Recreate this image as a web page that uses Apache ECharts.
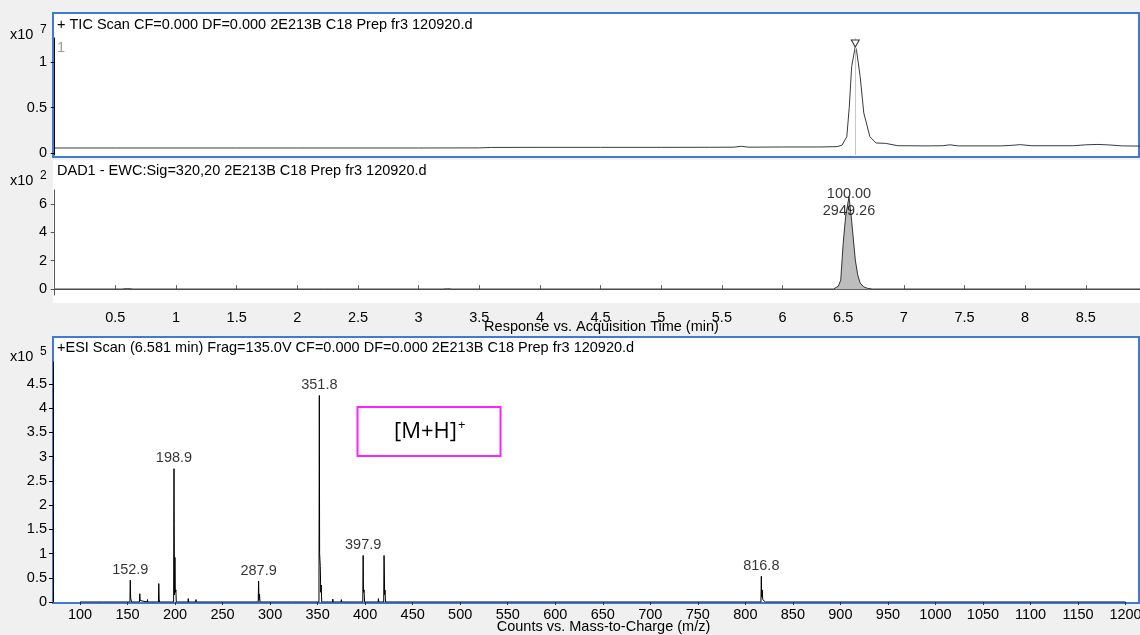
<!DOCTYPE html>
<html>
<head>
<meta charset="utf-8">
<script src="https://cdn.jsdelivr.net/npm/echarts@6/dist/echarts.min.js"></script>
<style>
  html, body { margin: 0; padding: 0; background: #f0f0f0; }
  #chart { width: 1140px; height: 635px; }
</style>
</head>
<body>
<div id="chart"></div>
<script>
// ---- Panel titles ----
const ticTitle = '+ TIC Scan CF=0.000 DF=0.000 2E213B C18 Prep fr3 120920.d';
const dadTitle = 'DAD1 - EWC:Sig=320,20 2E213B C18 Prep fr3 120920.d';
const msTitle = '+ESI Scan (6.581 min) Frag=135.0V CF=0.000 DF=0.000 2E213B C18 Prep fr3 120920.d';
const timeAxisName = 'Response vs. Acquisition Time (min)';
const mzAxisName = 'Counts vs. Mass-to-Charge (m/z)';

// ---- Tick labels ----
const ticYTicks = [0, 0.5, 1];
const dadYTicks = [0, 2, 4, 6];
const msYTicks = [0, 0.5, 1, 1.5, 2, 2.5, 3, 3.5, 4, 4.5];
const timeTicks = [0, 0.5, 1, 1.5, 2, 2.5, 3, 3.5, 4, 4.5, 5, 5.5, 6, 6.5, 7, 7.5, 8, 8.5];
const timeTickLabels = [0.5, 1, 1.5, 2, 2.5, 3, 3.5, 4, 4.5, 5, 5.5, 6, 6.5, 7, 7.5, 8, 8.5];
const mzTickLabels = [100, 150, 200, 250, 300, 350, 400, 450, 500, 550, 600, 650, 700, 750,
  800, 850, 900, 950, 1000, 1050, 1100, 1150, 1200];

// ---- TIC trace: [time (min), counts x10^7] ----
const ticTrace = [
  [0, 0.055], [0.5, 0.055], [1, 0.055], [1.5, 0.055], [2, 0.055], [2.5, 0.055], [3, 0.055],
  [3.5, 0.056], [3.6, 0.061], [4, 0.062], [4.5, 0.062], [5, 0.062], [5.4, 0.063],
  [5.6, 0.064], [5.66, 0.074], [5.72, 0.064], [6.0, 0.066], [6.3, 0.066], [6.45, 0.07],
  [6.49, 0.085], [6.53, 0.18], [6.55, 0.5], [6.57, 0.95], [6.6, 1.17], [6.61, 1.13],
  [6.64, 0.84], [6.67, 0.44], [6.72, 0.18], [6.77, 0.11], [6.85, 0.106], [6.95, 0.08],
  [7.2, 0.078], [7.32, 0.08], [7.38, 0.09], [7.45, 0.078], [7.8, 0.078], [7.9, 0.085],
  [7.96, 0.092], [8.05, 0.08], [8.4, 0.08], [8.5, 0.09], [8.6, 0.094], [8.7, 0.088],
  [8.8, 0.078], [8.95, 0.076]
];
const ticApex = [6.6, 1.17];

// ---- DAD trace: [time (min), response x10^2] ----
const dadTrace = [
  [0, 0], [0.55, 0], [0.6, 0.03], [0.65, 0], [3.2, 0], [3.24, 0.02], [3.28, 0],
  [6.42, 0], [6.46, 0.2], [6.48, 0.63], [6.5, 3.2], [6.52, 5.1], [6.548, 6.51],
  [6.57, 4.8], [6.6, 2.05], [6.62, 1.0], [6.64, 0.42], [6.67, 0.15], [6.7, 0.05],
  [6.74, 0], [8.95, 0]
];
const dadPeak = [6.548, 6.51];
const dadPeakPercent = '100.00';
const dadPeakArea = '2949.26';

// ---- Mass spectrum profile: [m/z, counts x10^5] ----
const msProfile = [
  [100, 0], [104.6, 0], [105, 0.04], [105.4, 0],
  [124.7, 0], [125, 0.02], [125.3, 0],
  [134.7, 0], [135, 0.02], [135.3, 0],
  [152.5, 0], [152.9, 0.45], [153.3, 0.08], [153.9, 0.06], [154.3, 0],
  [162.6, 0], [162.9, 0.17], [163.3, 0.03], [163.6, 0],
  [170.7, 0], [171, 0.05], [171.3, 0],
  [182.5, 0], [182.9, 0.38], [183.3, 0.06], [183.7, 0],
  [198.5, 0], [198.9, 2.75], [199.1, 1.62], [199.4, 0.15], [199.9, 0.92], [200.3, 0.2],
  [200.9, 0.25], [201.3, 0],
  [213.6, 0], [213.9, 0.07], [214.2, 0],
  [221.7, 0], [222, 0.05], [222.3, 0],
  [287.5, 0], [287.9, 0.43], [288.3, 0.05], [288.9, 0.16], [289.3, 0],
  [323.7, 0], [324, 0.02], [324.3, 0],
  [351.4, 0], [351.8, 4.26], [352.1, 1.0], [352.8, 0.73], [353.3, 0.2], [353.8, 0.35], [354.3, 0],
  [365.7, 0], [366, 0.06], [366.3, 0],
  [374.7, 0], [375, 0.05], [375.3, 0],
  [397.5, 0], [397.9, 0.96], [398.3, 0.2], [398.9, 0.25], [399.4, 0],
  [413.7, 0], [414, 0.07], [414.3, 0],
  [419.5, 0], [419.9, 0.96], [420.1, 0.72], [420.5, 0.15], [420.9, 0.25], [421.4, 0],
  [429.7, 0], [430, 0.03], [430.3, 0],
  [436.7, 0], [437, 0.04], [437.3, 0],
  [816.4, 0], [816.8, 0.53], [817.2, 0.1], [817.8, 0.25], [818.3, 0.05], [820, 0.03], [821, 0],
  [835, 0], [836, 0.03], [837, 0], [844, 0], [845, 0.03], [846, 0],
  [1200, 0]
];
// labelled centroid peaks: [m/z, counts x10^5]
const msLabelledPeaks = [
  [152.9, 0.45], [198.9, 2.75], [287.9, 0.43], [351.8, 4.26], [397.9, 0.96], [816.8, 0.53]
];

const FONT = 'Liberation Sans, Arial, sans-serif';
const FS = 14.5;
const BLUE = '#3f7bd6';

const chart = echarts.init(document.getElementById('chart'), null, { renderer: 'canvas' });

function plain(v) { return String(v); }

function yAxisCommon(gridIndex, min, max, ticks, lineColor) {
  return {
    type: 'value', gridIndex, min, max,
    axisLine: { show: true, lineStyle: { color: lineColor, width: 1 } },
    axisTick: { show: true, length: 4, customValues: ticks, lineStyle: { color: lineColor } },
    axisLabel: { show: true, customValues: ticks, margin: 6, color: '#000', fontSize: FS, fontFamily: FONT, formatter: plain },
    splitLine: { show: false }
  };
}

function txt(left, top, text, size, color) {
  return {
    type: 'text', left, top, z: 100,
    style: { text, fill: color || '#000', font: size + 'px ' + FONT }
  };
}

const option = {
  backgroundColor: '#f0f0f0',
  animation: false,
  textStyle: { fontFamily: FONT },
  grid: [
    { left: 53, top: 38, width: 1087, height: 117, outerBoundsMode: 'none', containLabel: false },
    { left: 53, top: 190, width: 1087, height: 105, outerBoundsMode: 'none', containLabel: false },
    { left: 53, top: 362, width: 1087, height: 240, outerBoundsMode: 'none', containLabel: false }
  ],
  xAxis: [
    {
      type: 'value', gridIndex: 0, min: -0.014, max: 8.947,
      axisLine: { show: false }, axisTick: { show: false }, axisLabel: { show: false },
      splitLine: { show: false }
    },
    {
      type: 'value', gridIndex: 1, min: -0.014, max: 8.947, offset: 9,
      axisLine: { show: true, lineStyle: { color: '#666' } },
      axisTick: { show: true, inside: true, length: 4, customValues: timeTicks, lineStyle: { color: '#666' } },
      axisLabel: { show: true, customValues: timeTickLabels, margin: 6, color: '#000', fontSize: FS, fontFamily: FONT, formatter: plain },
      splitLine: { show: false },
      name: timeAxisName, nameLocation: 'middle', nameGap: 15, nameMoveOverlap: false,
      nameTextStyle: { color: '#000', fontSize: FS, fontFamily: FONT, padding: [0, 0, 0, 10] }
    },
    {
      type: 'value', gridIndex: 2, min: 71.6, max: 1215.2,
      axisLine: { show: false },
      axisTick: { show: true, length: 3, customValues: mzTickLabels, lineStyle: { color: '#333' } },
      axisLabel: { show: true, customValues: mzTickLabels, margin: 5, color: '#000', fontSize: FS, fontFamily: FONT, formatter: plain },
      splitLine: { show: false },
      name: mzAxisName, nameLocation: 'middle', nameGap: 17, nameMoveOverlap: false,
      nameTextStyle: { color: '#000', fontSize: FS, fontFamily: FONT, padding: [0, 0, 0, 14] }
    }
  ],
  yAxis: [
    yAxisCommon(0, -0.022, 1.264, ticYTicks, '#000'),
    yAxisCommon(1, -0.42, 6.99, dadYTicks, '#555'),
    yAxisCommon(2, 0, 4.95, msYTicks, '#000')
  ],
  graphic: {
    elements: [
      // panel backgrounds
      { type: 'rect', z: -10, shape: { x: 53, y: 160, width: 1087, height: 143 }, style: { fill: '#fff' } },
      { type: 'rect', z: -10, shape: { x: 53, y: 13, width: 1086, height: 144 }, style: { fill: '#fff', stroke: BLUE, lineWidth: 2 } },
      { type: 'rect', z: -10, shape: { x: 53, y: 337, width: 1086, height: 266 }, style: { fill: '#fff', stroke: BLUE, lineWidth: 2 } },
      // panel titles
      txt(57, 17, ticTitle, FS),
      txt(57, 163, dadTitle, FS),
      txt(57, 340, msTitle, FS),
      txt(57, 40, '1', FS, '#9a9a9a'),
      // scale exponents
      txt(10, 27, 'x10', FS), txt(40, 24, '7', 12),
      txt(10, 173, 'x10', FS), txt(40, 170, '2', 12),
      txt(10, 349, 'x10', FS), txt(40, 346, '5', 12),
      // [M+H]+ annotation box
      { type: 'rect', z: 100, shape: { x: 357.5, y: 407, width: 143, height: 49 }, style: { fill: 'none', stroke: '#ff22ff', lineWidth: 2 } },
      { type: 'text', z: 101, left: 394, top: 421, style: { text: '[M+H]', fill: '#000', font: '22px Open Sans, sans-serif' } },
      { type: 'text', z: 101, left: 458, top: 419, style: { text: '+', fill: '#000', font: '13px Open Sans, sans-serif' } }
    ]
  },
  series: [
    {
      type: 'line', xAxisIndex: 0, yAxisIndex: 0, data: ticTrace,
      symbol: 'none', lineStyle: { color: '#3a3a3a', width: 1 }, silent: true,
      markLine: {
        silent: true, symbol: 'none', label: { show: false },
        lineStyle: { color: '#c8c8c8', width: 1, type: 'solid' },
        data: [{ xAxis: ticApex[0] }]
      },
      markPoint: {
        silent: true, label: { show: false },
        data: [{
          coord: ticApex, symbol: 'triangle', symbolRotate: 180, symbolSize: [8, 7], symbolOffset: [0, -3],
          itemStyle: { color: '#fff', borderColor: '#333', borderWidth: 1 }
        }]
      }
    },
    {
      type: 'line', xAxisIndex: 1, yAxisIndex: 1, data: dadTrace,
      symbol: 'none', lineStyle: { color: '#333', width: 1 },
      areaStyle: { color: '#bdbdbd', opacity: 1 }, silent: true
    },
    {
      type: 'scatter', xAxisIndex: 1, yAxisIndex: 1, data: [dadPeak],
      symbolSize: 0, silent: true, z: 5,
      label: {
        show: true, position: 'inside', offset: [0, 6], color: '#000', fontSize: FS, fontFamily: FONT,
        lineHeight: 17, formatter: () => dadPeakPercent + '\n' + dadPeakArea
      }
    },
    {
      type: 'line', xAxisIndex: 2, yAxisIndex: 2, data: msProfile,
      symbol: 'none', lineStyle: { color: '#000', width: 1 }, silent: true
    },
    {
      type: 'scatter', xAxisIndex: 2, yAxisIndex: 2, data: msLabelledPeaks,
      symbolSize: 0, silent: true, z: 5,
      label: {
        show: true, position: 'top', distance: 3, color: '#000', fontSize: FS, fontFamily: FONT,
        formatter: (p) => p.value[0].toFixed(1)
      }
    }
  ]
};

chart.setOption(option);
</script>
</body>
</html>
